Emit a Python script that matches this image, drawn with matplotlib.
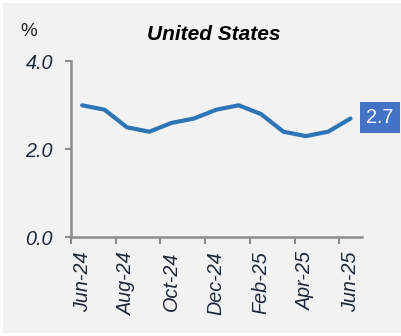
import matplotlib
matplotlib.use("Agg")
import matplotlib.pyplot as plt
from matplotlib.patches import Rectangle
from matplotlib.ticker import FixedLocator

# US CPI inflation, year over year (%)
months = ["Jun-24", "Jul-24", "Aug-24", "Sep-24", "Oct-24", "Nov-24", "Dec-24",
          "Jan-25", "Feb-25", "Mar-25", "Apr-25", "May-25", "Jun-25"]
cpi = [3.0, 2.9, 2.5, 2.4, 2.6, 2.7, 2.9, 3.0, 2.8, 2.4, 2.3, 2.4, 2.7]
y_ticks = [0.0, 2.0, 4.0]
title = "United States"
unit = "%"

W, H = 401, 336
fig = plt.figure(figsize=(W / 100, H / 100), dpi=100)
fig.patch.set_facecolor("white")
fig.patches.append(Rectangle((3 / W, 3 / H), 1 - 3 / W, 1 - 6 / H,
                             transform=fig.transFigure, facecolor="#f2f2f2",
                             edgecolor="none", zorder=-10))

ax = fig.add_axes([71 / W, 1 - 237.3 / H, (361.7 - 71) / W, (237.3 - 61.3) / H])
ax.set_facecolor("none")
ax.set_zorder(5)

x = list(range(len(months)))
ax.plot(x, cpi, color="#2e75b6", lw=3.0, solid_capstyle="round",
        solid_joinstyle="round", zorder=3)

ax.set_xlim(-0.5, len(months) - 0.5)
ax.set_ylim(0, 4)

font = "Liberation Sans"
tick_color = "#1c2838"
spine_color = "#8c8c8c"

ax.set_yticks(y_ticks)
ax.set_yticklabels([f"{v:.1f}" for v in y_ticks], fontsize=14.2,
                   fontstyle="italic", family=font, color=tick_color)
ax.tick_params(axis="y", length=4, width=1.5, color=spine_color, pad=9)

ax.set_xticks(x[::2])
ax.set_xticklabels(months[::2], rotation=90, fontsize=14.2, fontstyle="italic",
                   family=font, color=tick_color)
ax.tick_params(axis="x", which="major", length=0, pad=10)
ax.xaxis.set_minor_locator(FixedLocator([i - 0.5 for i in x[::2]]))
ax.tick_params(axis="x", which="minor", length=5, width=1.5, color=spine_color)

for side in ("top", "right"):
    ax.spines[side].set_visible(False)
for side in ("left", "bottom"):
    ax.spines[side].set_color(spine_color)
    ax.spines[side].set_linewidth(1.8)

# latest value label
ax.annotate(f"{cpi[-1]:.1f}", xy=(x[-1], cpi[-1]), xytext=(29, 1),
            textcoords="offset pixels", ha="center", va="center",
            fontsize=14.2, family=font, color="white", zorder=4,
            bbox=dict(boxstyle="square,pad=0.32", facecolor="#4472c4",
                      edgecolor="none"),
            annotation_clip=False)

fig.text(214 / W, 1 - 35 / H, title, ha="center", va="center", fontsize=15,
         fontweight="bold", fontstyle="italic", family=font, color="black")
fig.text(29 / W, 1 - 31 / H, unit, ha="center", va="center", fontsize=13.5,
         family=font, color="#222222")

fig.savefig("out.png", dpi=100, facecolor=fig.get_facecolor())
